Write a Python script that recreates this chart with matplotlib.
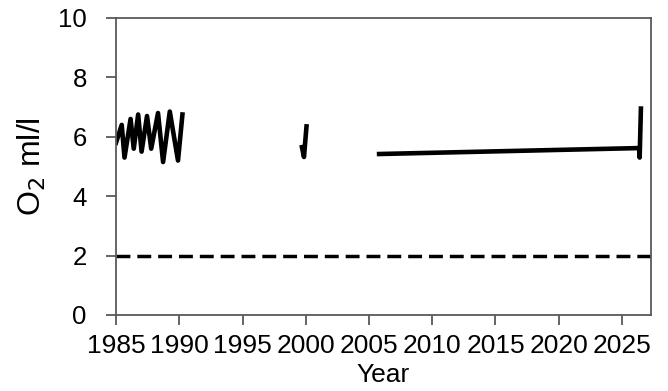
import numpy as np
import matplotlib.pyplot as plt

plt.rcParams['font.family'] = ['Liberation Sans', 'DejaVu Sans']

# Series (year, O2 ml/l)
yr_a = [1985.0, 1985.45, 1985.67, 1986.15, 1986.4, 1986.75, 1987.02, 1987.45,
        1987.78, 1988.32, 1988.72, 1989.25, 1989.9, 1990.25]
o2_a = [5.8, 6.4, 5.3, 6.6, 5.6, 6.75, 5.5, 6.7,
        5.6, 6.8, 5.15, 6.85, 5.2, 6.75]

yr_b = [1999.70, 1999.86, 2000.06]
o2_b = [5.65, 5.32, 6.35]

yr_c = [2005.8, 2026.35, 2026.4, 2026.5]
o2_c = [5.42, 5.62, 5.3, 6.95]

limite = 2.0
anos = list(range(1985, 2026, 5))

fig = plt.figure(figsize=(6.68, 3.91), dpi=100)
ax = fig.add_axes([0.1737, 0.1944, 0.8009, 0.7596])

for x, y in [(yr_a, o2_a), (yr_b, o2_b), (yr_c, o2_c)]:
    ax.plot(x, y, color='black', lw=3.3, solid_joinstyle='round')

ax.axhline(limite, color='black', lw=2.5, dashes=(4, 2))

ax.set_xlim(1985, 2027.3)
ax.set_ylim(0, 10)
ax.set_xticks(anos)
ax.set_yticks(range(0, 11, 2))
ax.tick_params(length=7, width=1.3, color='#595959')
ax.tick_params(axis='x', labelsize=19, pad=7)
ax.tick_params(axis='y', labelsize=18.5, pad=14)

for s in ax.spines.values():
    s.set_color('#595959')
    s.set_linewidth(1.3)

ax.set_xlabel('Year', fontsize=19)
ax.set_ylabel('O$_2$ ml/l', fontsize=23)
ax.xaxis.set_label_coords(0.5, -0.16)
ax.yaxis.set_label_coords(-0.128, 0.5)

fig.savefig('out.png', dpi=100)
